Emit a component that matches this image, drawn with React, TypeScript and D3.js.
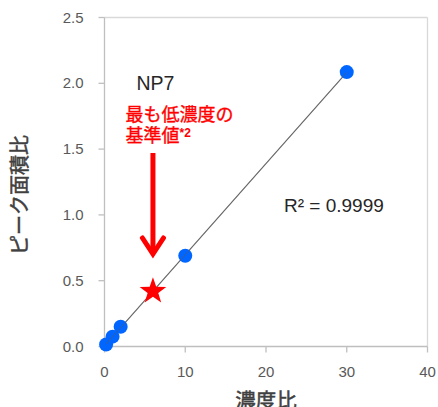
import React from "react";
import * as d3 from "d3";

const concRatio = [0.2, 1, 2, 10, 30];
const areaRatio = [0.015, 0.075, 0.15, 0.69, 2.085];
const xTicks = [0, 10, 20, 30, 40];
const yTicks = [0, 0.5, 1.0, 1.5, 2.0, 2.5];
const starPoint = { x: 6, y: 0.42 };
const r2Label = "R² = 0.9999";
const seriesName = "NP7";
const xTitle = "濃度比";
const yTitle = "ピーク面積比";
const noteLine1 = "最も低濃度の";
const noteLine2 = "基準値";
const noteSup = "*2";

const W = 438;
const H = 407;

export default function App() {
  const x = d3.scaleLinear().domain([0, 40]).range([104.5, 427.5]);
  const y = d3.scaleLinear().domain([0, 2.5]).range([346.5, 17.5]);

  // least squares fit
  const n = concRatio.length;
  const mx = d3.mean(concRatio)!;
  const my = d3.mean(areaRatio)!;
  let sxy = 0, sxx = 0;
  for (let i = 0; i < n; i++) {
    sxy += (concRatio[i] - mx) * (areaRatio[i] - my);
    sxx += (concRatio[i] - mx) ** 2;
  }
  const slope = sxy / sxx;
  const icpt = my - slope * mx;
  const [x0, x1] = d3.extent(concRatio) as [number, number];
  const line = d3.line<number>().x((d) => x(d)).y((d) => y(icpt + slope * d));

  const starPath = (cx: number, cy: number, R: number, r: number) => {
    const pts: [number, number][] = [];
    for (let i = 0; i < 10; i++) {
      const rad = i % 2 === 0 ? R : r;
      const a = -Math.PI / 2 + (i * Math.PI) / 5;
      pts.push([cx + rad * Math.cos(a), cy + rad * Math.sin(a)]);
    }
    return d3.line()(pts)! + "Z";
  };

  const sx = x(starPoint.x);
  const sy = y(starPoint.y);
  const arrowX = sx;
  const arrowTop = 153;
  const arrowTip = 257;

  const tickFont = "'Liberation Sans', Arial, sans-serif";
  const cjk = "'Noto Sans CJK JP', sans-serif";

  return (
    <svg
      width={W}
      height={H}
      style={{ position: "absolute", left: 0, top: 0, background: "#fff" }}
    >
      {/* plot area border top/right */}
      <line x1={x(0)} x2={x(40)} y1={y(2.5)} y2={y(2.5)} stroke="#d9d9d9" strokeWidth={1.3} />
      <line x1={x(40)} x2={x(40)} y1={y(2.5)} y2={y(0)} stroke="#d9d9d9" strokeWidth={1.3} />
      {/* axes */}
      <line x1={x(0)} x2={x(0)} y1={y(2.5)} y2={y(0)} stroke="#bfbfbf" strokeWidth={1.3} />
      <line x1={x(0)} x2={x(40)} y1={y(0)} y2={y(0)} stroke="#bfbfbf" strokeWidth={1.3} />
      {yTicks.map((t) => (
        <g key={"y" + t}>
          <line x1={x(0) - 6} x2={x(0)} y1={y(t)} y2={y(t)} stroke="#bfbfbf" strokeWidth={1.3} />
          <text
            x={83.5}
            y={y(t) + 5}
            textAnchor="end"
            fontFamily={tickFont}
            fontSize={15}
            fill="#595959"
          >
            {t.toFixed(1)}
          </text>
        </g>
      ))}
      {xTicks.map((t) => (
        <g key={"x" + t}>
          <line x1={x(t)} x2={x(t)} y1={y(0)} y2={y(0) + 6} stroke="#bfbfbf" strokeWidth={1.3} />
          <text
            x={x(t)}
            y={376.5}
            textAnchor="middle"
            fontFamily={tickFont}
            fontSize={15}
            fill="#595959"
          >
            {t}
          </text>
        </g>
      ))}
      {/* trendline */}
      <path d={line([x0, x1])!} stroke="#7f7f7f" strokeWidth={1.2} fill="none" />
      {/* points */}
      {concRatio.map((c, i) => (
        <circle key={i} cx={x(c)} cy={y(areaRatio[i])} r={7} fill="#0066ff" />
      ))}
      <path d={line([x0, x1])!} stroke="#5a5a5a" strokeWidth={1} fill="none" opacity={0.6} />
      {/* star */}
      <path d={starPath(sx, sy, 14, 5.6)} fill="#ff0000" />
      {/* arrow */}
      <line x1={arrowX} x2={arrowX} y1={arrowTop} y2={arrowTip - 3} stroke="#ff0000" strokeWidth={5} />
      <path
        d={`M${arrowX - 10.5},${arrowTip - 19} L${arrowX},${arrowTip - 3} L${arrowX + 10.5},${arrowTip - 19}`}
        stroke="#ff0000"
        strokeWidth={5}
        fill="none"
        strokeLinecap="round"
        strokeLinejoin="miter"
      />
      {/* labels */}
      <text x={136.5} y={90} fontFamily={tickFont} fontSize={19.5} fill="#262626">
        {seriesName}
      </text>
      <text x={125.5} y={121} fontFamily={cjk} fontSize={18} fill="#ff0000" stroke="#ff0000" strokeWidth={0.35}>
        {noteLine1}
      </text>
      <text x={125.5} y={142} fontFamily={cjk} fontSize={18} fill="#ff0000" stroke="#ff0000" strokeWidth={0.35}>
        {noteLine2}
        <tspan fontFamily={tickFont} fontSize={12} dy={-5} fontWeight="bold" strokeWidth={0}>
          {noteSup}
        </tspan>
      </text>
      <text x={284} y={211.5} fontFamily={tickFont} fontSize={19} fill="#262626">
        {r2Label}
      </text>
      {/* axis titles */}
      <text
        x={x(20)}
        y={408}
        textAnchor="middle"
        fontFamily={cjk}
        fontSize={20.5}
        fill="#404040"
        stroke="#404040"
        strokeWidth={0.5}
      >
        {xTitle}
      </text>
      <text
        transform={`translate(27,195) rotate(-90)`}
        textAnchor="middle"
        fontFamily={cjk}
        fontSize={20}
        fill="#404040"
        stroke="#404040"
        strokeWidth={0.5}
      >
        {yTitle}
      </text>
    </svg>
  );
}
